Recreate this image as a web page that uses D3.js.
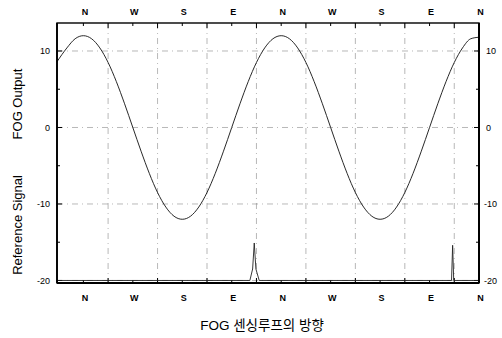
<!DOCTYPE html>
<html>
<head>
<meta charset="utf-8">
<script src="https://cdn.jsdelivr.net/npm/d3@7"></script>
<style>
  body { margin: 0; background: #fff; }
  svg { display: block; }
</style>
</head>
<body>
<script>
// heading angle (deg), 0 = N
var headings = [-48, -30, -15, 0, 15, 30, 45, 60, 75, 90, 105, 120, 135, 150, 165, 180,
                195, 210, 225, 240, 255, 270, 285, 300, 315, 330, 345, 360,
                375, 390, 405, 420, 435, 450, 465, 480, 495, 510, 525, 540,
                555, 570, 585, 600, 615, 630, 645, 660, 675, 690, 705, 720];
var fogOutput = [8.6, 10.4, 11.6, 12, 11.6, 10.4, 8.5, 6, 3.1, 0, -3.1, -6, -8.5, -10.4, -11.6, -12,
                 -11.6, -10.4, -8.5, -6, -3.1, 0, 3.1, 6, 8.5, 10.4, 11.6, 12,
                 11.6, 10.4, 8.5, 6, 3.1, 0, -3.1, -6, -8.5, -10.4, -11.6, -12,
                 -11.6, -10.4, -8.5, -6, -3.1, 0, 3.1, 6, 8.5, 10.4, 11.6, 11.8];

// reference signal: flat at -20 with two narrow pulses
var refHeadings = [-48, 303, 308, 311, 314, 320, 670, 672, 674, 720];
var refSignal   = [-20, -20, -18.5, -15.1, -18.5, -20, -20, -15.4, -20, -20];

var dirTicks = [0, 90, 180, 270, 360, 450, 540, 630, 720];
var dirLabels = ["N", "W", "S", "E", "N", "W", "S", "E", "N"];
var gridX = [45, 135, 225, 315, 405, 495, 585, 675];
var yLabels = [10, 0, -10, -20];
var yMinor = [5, -5, -15];

var W = 502, H = 338;
var L = 57, R = 479, T = 23, B = 283;

var svg = d3.select("body").append("svg")
    .attr("width", W)
    .attr("height", H)
    .style("font-family", "'Liberation Sans', Arial, sans-serif");

var x = d3.scaleLinear().domain([-48, 720]).range([L, R]);
var y = d3.scaleLinear().domain([-20.33, 13.66]).range([B, T]);

//GRID
var grid = svg.append("g")
    .attr("stroke", "#888")
    .attr("stroke-width", 0.6)
    .attr("stroke-dasharray", "6,4,1,4")
    .attr("fill", "none");

grid.selectAll("line.h").data(yLabels).enter()
    .append("line")
    .attr("x1", L).attr("x2", R)
    .attr("y1", d => y(d)).attr("y2", d => y(d));

grid.selectAll("line.v").data(gridX).enter()
    .append("line")
    .attr("x1", d => x(d)).attr("x2", d => x(d))
    .attr("y1", T).attr("y2", B);

//TICKS (inward)
var ticks = svg.append("g").attr("stroke", "#000").attr("stroke-width", 1);
[T, B].forEach(function(yy) {
    var dir = yy == T ? 1 : -1;
    ticks.selectAll(null).data(gridX).enter().append("line")
        .attr("x1", d => x(d)).attr("x2", d => x(d))
        .attr("y1", yy).attr("y2", yy + dir * 5);
    ticks.selectAll(null).data(dirTicks).enter().append("line")
        .attr("x1", d => x(d)).attr("x2", d => x(d))
        .attr("y1", yy).attr("y2", yy + dir * 3);
});
[L, R].forEach(function(xx) {
    var dir = xx == L ? 1 : -1;
    ticks.selectAll(null).data(yLabels).enter().append("line")
        .attr("x1", xx).attr("x2", xx + dir * 5)
        .attr("y1", d => y(d)).attr("y2", d => y(d));
    ticks.selectAll(null).data(yMinor).enter().append("line")
        .attr("x1", xx).attr("x2", xx + dir * 3)
        .attr("y1", d => y(d)).attr("y2", d => y(d));
});

//CURVES
var line = d3.line().x(d => x(d[0])).y(d => y(d[1])).curve(d3.curveMonotoneX);

svg.append("path")
    .datum(d3.zip(headings, fogOutput))
    .attr("d", line)
    .attr("fill", "none")
    .attr("stroke", "#111")
    .attr("stroke-width", 0.9);

svg.append("path")
    .datum(d3.zip(refHeadings, refSignal))
    .attr("d", d3.line().x(d => x(d[0])).y(d => y(d[1])))
    .attr("fill", "none")
    .attr("stroke", "#222")
    .attr("stroke-width", 0.9);

//FRAME
svg.append("rect")
    .attr("x", L).attr("y", T)
    .attr("width", R - L).attr("height", B - T)
    .attr("fill", "none")
    .attr("stroke", "#000")
    .attr("stroke-width", 1.4);
svg.append("line").attr("x1", L).attr("x2", R).attr("y1", B).attr("y2", B)
    .attr("stroke", "#000").attr("stroke-width", 2.2);
svg.append("line").attr("x1", R).attr("x2", R).attr("y1", T).attr("y2", B)
    .attr("stroke", "#000").attr("stroke-width", 2);
svg.append("line").attr("x1", L).attr("x2", L).attr("y1", T).attr("y2", B)
    .attr("stroke", "#000").attr("stroke-width", 1.8);

//LABELS
[12, 298].forEach(function(yy) {
    svg.append("g").selectAll("text").data(dirTicks).enter()
        .append("text")
        .text((d, i) => dirLabels[i])
        .attr("x", d => x(d) + 1.5)
        .attr("y", yy)
        .attr("dy", "0.35em")
        .attr("text-anchor", "middle")
        .attr("font-size", 9)
        .attr("font-weight", "bold");
});

svg.append("g").selectAll("text").data(yLabels).enter()
    .append("text")
    .text(d => d)
    .attr("x", 50)
    .attr("y", d => y(d))
    .attr("dy", "0.35em")
    .attr("text-anchor", "end")
    .attr("font-size", 9);

svg.append("g").selectAll("text").data(yLabels).enter()
    .append("text")
    .text(d => d)
    .attr("x", d => d < 0 ? 484 : 486)
    .attr("y", d => y(d))
    .attr("dy", "0.35em")
    .attr("text-anchor", "start")
    .attr("font-size", 9);

svg.append("text")
    .text("Reference Signal")
    .attr("transform", "translate(17,225) rotate(-90)")
    .attr("dy", "0.35em")
    .attr("text-anchor", "middle")
    .attr("font-size", 13);

svg.append("text")
    .text("FOG Output")
    .attr("transform", "translate(17,104) rotate(-90)")
    .attr("dy", "0.35em")
    .attr("text-anchor", "middle")
    .attr("font-size", 13);

svg.append("text")
    .text("FOG 센싱루프의 방향")
    .attr("x", 262)
    .attr("y", 325)
    .attr("dy", "0.35em")
    .attr("text-anchor", "middle")
    .attr("font-size", 13.5)
    .style("font-family", "'Liberation Sans', 'Noto Sans CJK KR', sans-serif");
</script>
</body>
</html>
